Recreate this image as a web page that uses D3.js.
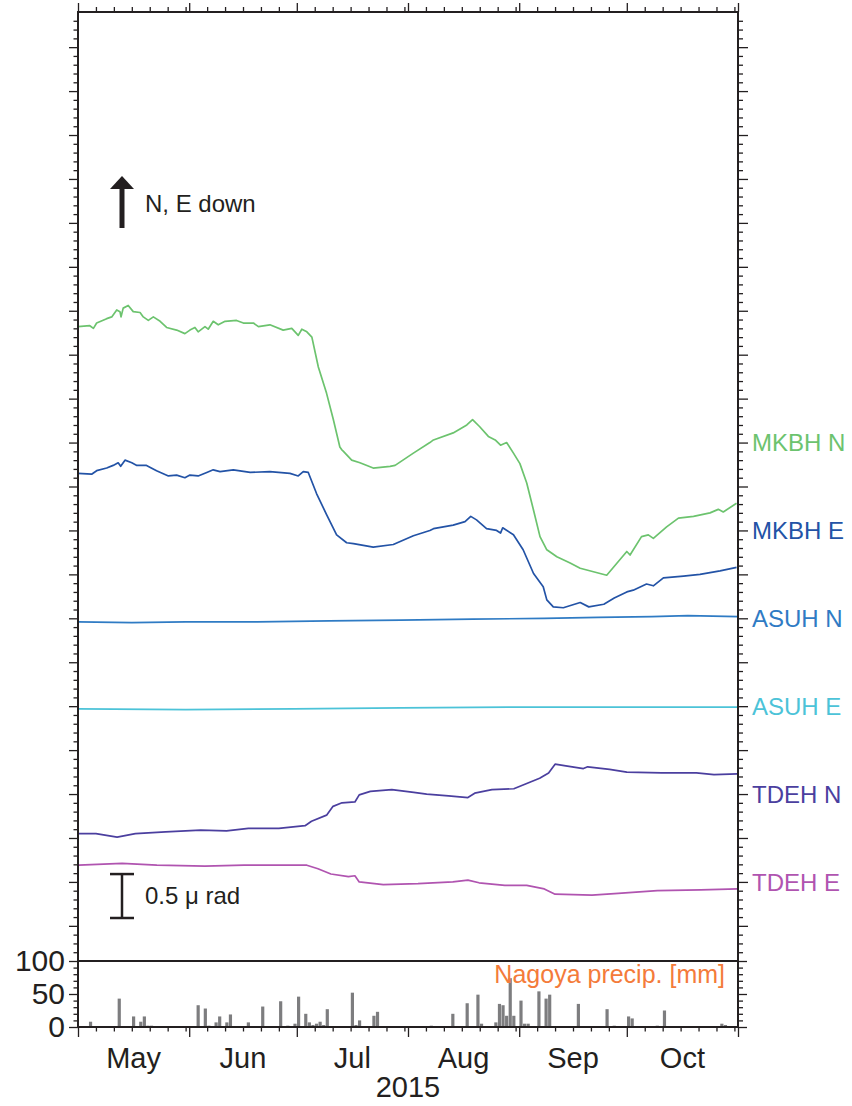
<!DOCTYPE html>
<html>
<head>
<meta charset="utf-8">
<script src="https://cdn.jsdelivr.net/npm/d3@7"></script>
<style>
  body { margin: 0; background: #fff; }
  svg text { font-family: "Liberation Sans", Arial, sans-serif; fill: #231f20; }
  .axis path.domain { display: none; }
  .axis line { stroke: #231f20; stroke-width: 1.3; }
</style>
</head>
<body>
<script>
// tilt series: [days since 2015-05-01, tilt in microradian (offset for display)]
var mkbhN = [[0,7.32],[3.3,7.33],[4.3,7.30],[5.2,7.36],[8,7.41],[9.4,7.43],[10.8,7.51],[11.7,7.49],[12,7.43],[12.6,7.53],[14,7.56],[15.4,7.49],[17.3,7.48],[18.2,7.43],[19.6,7.39],[21,7.43],[22.9,7.38],[24.7,7.31],[27.5,7.28],[29.8,7.24],[31.2,7.28],[32.6,7.31],[33.5,7.26],[35.4,7.32],[36.3,7.29],[37.7,7.38],[39.1,7.34],[41,7.38],[44.2,7.39],[46.1,7.36],[48.9,7.36],[50.3,7.32],[53.5,7.34],[57.2,7.28],[59.6,7.30],[61.4,7.22],[62.4,7.29],[63.8,7.26],[65.2,7.20],[67,6.86],[69.3,6.56],[71.2,6.26],[73,5.95],[73.5,5.92],[74,5.90],[76.3,5.80],[78.6,5.77],[82.3,5.71],[87,5.73],[88.4,5.74],[93.5,5.88],[98.1,6.00],[99.1,6.03],[104.6,6.11],[108.4,6.20],[110,6.26],[112,6.18],[114.4,6.07],[116.3,6.03],[117.8,5.97],[119.5,6.00],[121.4,5.88],[123.2,5.76],[125.1,5.54],[127,5.23],[128.8,4.93],[130.7,4.78],[133.5,4.70],[137.2,4.63],[140,4.57],[147.4,4.49],[153,4.76],[153.9,4.72],[157.1,4.93],[159,4.95],[160.4,4.91],[164.1,5.04],[167.4,5.14],[171.6,5.16],[176.2,5.20],[178.5,5.24],[179.9,5.21],[183.6,5.31]];
var mkbhE = [[0,5.65],[3.8,5.64],[5.2,5.68],[8,5.71],[9.8,5.74],[11.2,5.77],[11.9,5.73],[13.1,5.80],[15,5.77],[16.4,5.74],[19.1,5.74],[21.9,5.68],[25.2,5.62],[27.5,5.63],[29.8,5.60],[31.2,5.63],[33.5,5.62],[35.9,5.66],[37.7,5.69],[39.6,5.67],[43.3,5.69],[48,5.66],[53.5,5.67],[59.1,5.65],[61.4,5.62],[62.8,5.67],[64.2,5.66],[66.5,5.42],[69.3,5.18],[72.1,4.95],[74.9,4.86],[76.8,4.85],[82.3,4.81],[87.9,4.84],[93.5,4.94],[98.1,5.00],[99.1,5.02],[104.6,5.06],[107.9,5.10],[109.5,5.16],[111.1,5.12],[113.9,5.02],[116.7,5.00],[117.8,4.97],[118.4,5.03],[121.4,4.95],[124.1,4.78],[127,4.51],[129.7,4.36],[130.7,4.21],[132.5,4.13],[135.3,4.12],[140,4.18],[142.4,4.13],[146.6,4.16],[149.5,4.23],[153,4.30],[154.8,4.32],[158.5,4.39],[160.4,4.37],[163.2,4.46],[168.8,4.48],[173.4,4.50],[179,4.54],[183.6,4.58]];
var asuhN = [[0,3.96],[15,3.95],[30,3.96],[50,3.96],[70,3.97],[90,3.98],[110,3.99],[130,4.00],[145,4.01],[160,4.02],[170,4.03],[184,4.02]];
var asuhE = [[0,2.97],[30,2.96],[60,2.97],[90,2.98],[120,2.99],[150,2.99],[184,2.99]];
var tdehN = [[0.2,1.55],[5,1.55],[10.9,1.51],[16,1.55],[24.4,1.57],[34.2,1.59],[41.4,1.58],[47.5,1.61],[56,1.61],[63.3,1.64],[65.1,1.69],[69.3,1.76],[71.1,1.86],[73.6,1.90],[77.2,1.91],[78.4,1.99],[81.5,2.03],[87.5,2.05],[93.6,2.02],[97.2,2.00],[103.3,1.98],[108.7,1.96],[110.6,2.01],[115.4,2.05],[121.5,2.06],[125.1,2.12],[128.7,2.18],[131.2,2.24],[133,2.34],[136,2.32],[140.9,2.29],[142.1,2.31],[148.2,2.28],[153,2.25],[162.7,2.24],[172.4,2.24],[177.3,2.22],[183.9,2.23]];
var tdehE = [[0.2,1.19],[12.3,1.21],[22,1.19],[35.4,1.18],[46.3,1.19],[63.8,1.19],[66.9,1.15],[70.5,1.09],[75.4,1.06],[77.2,1.07],[78.4,1.00],[85.1,0.97],[94.8,0.98],[104.5,1.00],[108.7,1.02],[111.8,0.99],[119,0.96],[125.1,0.96],[130,0.92],[133,0.86],[143.3,0.85],[150.6,0.87],[161.5,0.90],[173.6,0.91],[183.9,0.92]];

var seriesNames = ["MKBH N", "MKBH E", "ASUH N", "ASUH E", "TDEH N", "TDEH E"];
var seriesLevels = [6, 5, 4, 3, 2, 1];
var seriesColors = ["#6cc36e", "#2353a6", "#2f7bc4", "#4cc3d8", "#4b3f9f", "#b054b0"];
var seriesData = [mkbhN, mkbhE, asuhN, asuhE, tdehN, tdehE];

// Nagoya daily precipitation
var precipDates = ["05-04","05-12","05-16","05-18","05-19","05-20","05-21","06-03","06-05","06-06","06-08","06-09","06-11","06-12","06-17","06-21","06-24","06-26","06-28","06-30","07-01","07-03","07-04","07-05","07-06","07-07","07-08","07-09","07-16","07-17","07-18","07-22","07-23","08-07","08-13","08-17","08-20","08-21","08-25","08-26","08-27","08-28","08-29","08-30","09-01","09-02","09-03","09-06","09-08","09-09","09-17","09-25","09-27","10-01","10-02","10-09","10-11","10-27","10-28"];
var precipMm = [8,43,16,8,16,2,2,33,28,2,7,16,7,19,7,31,1,39,2,5,46,20,7,3,5,8,3,27,52,3,10,17,23,2,20,36,49,5,7,35,33,17,74,17,40,5,5,54,43,49,35,27,2,16,13,2,25,5,3];

var monthLabels = ["May", "Jun", "Jul", "Aug", "Sep", "Oct"];
var yearLabel = "2015";
var precipTicks = [0, 50, 100];

var svgWidth = 852;
var svgHeight = 1106;
var plot = { left: 78, right: 738, top: 12, split: 961, bottom: 1027 };

var t0 = new Date(Date.UTC(2015, 4, 1));
var t1 = new Date(Date.UTC(2015, 10, 1));
function dayToDate(d) { return new Date(t0.getTime() + d * 864e5); }
var parseDay = d3.utcParse("%Y-%m-%d");

var svg = d3.select("body")
  .append("svg")
  .attr("width", svgWidth)
  .attr("height", svgHeight);

var x = d3.scaleUtc().domain([t0, t1]).range([plot.left, plot.right]);
var y = d3.scaleLinear().domain([0.1, 10.9]).range([plot.split, plot.top]);
var yP = d3.scaleLinear().domain([0, 100]).range([plot.bottom, plot.split]);

// tick values
var majorY = d3.range(1, 22).map(i => i * 0.5);
var minorY = d3.range(2, 109).filter(i => i % 5 !== 0).map(i => i / 10);
var monthTicks = d3.utcMonth.range(t0, new Date(t1.getTime() + 1));
var minorX = d3.utcDay.range(t0, t1).filter(d => [6, 11, 16, 21, 26, 31].indexOf(d.getUTCDate()) >= 0);
var minorP = d3.range(10, 100, 10).filter(v => v !== 50);

function addAxis(axis, tx, ty) {
  svg.append("g")
    .attr("class", "axis")
    .attr("transform", `translate(${tx},${ty})`)
    .call(axis);
}

// main panel y ticks
addAxis(d3.axisLeft(y).tickValues(majorY).tickSize(9).tickFormat(""), plot.left, 0);
addAxis(d3.axisLeft(y).tickValues(minorY).tickSize(4.5).tickFormat(""), plot.left, 0);
addAxis(d3.axisRight(y).tickValues(majorY).tickSize(10).tickFormat(""), plot.right, 0);
addAxis(d3.axisRight(y).tickValues(minorY).tickSize(5).tickFormat(""), plot.right, 0);

// time ticks top and bottom
addAxis(d3.axisTop(x).tickValues(monthTicks).tickSize(9).tickFormat(""), 0, plot.top);
addAxis(d3.axisTop(x).tickValues(minorX).tickSize(5).tickFormat(""), 0, plot.top);
addAxis(d3.axisBottom(x).tickValues(monthTicks).tickSize(10).tickFormat(""), 0, plot.bottom);
addAxis(d3.axisBottom(x).tickValues(minorX).tickSize(4.5).tickFormat(""), 0, plot.bottom);

// precip panel ticks
svg.append("g")
  .attr("class", "axis")
  .attr("transform", `translate(${plot.left},0)`)
  .call(d3.axisLeft(yP).tickValues(precipTicks).tickSize(9).tickPadding(4))
  .selectAll("text")
  .style("font-size", "30px");
addAxis(d3.axisLeft(yP).tickValues(minorP).tickSize(4.5).tickFormat(""), plot.left, 0);
addAxis(d3.axisRight(yP).tickValues(precipTicks).tickSize(9).tickFormat(""), plot.right, 0);
addAxis(d3.axisRight(yP).tickValues(minorP).tickSize(5).tickFormat(""), plot.right, 0);

// clip for the tilt lines
svg.append("clipPath").attr("id", "clip")
  .append("rect")
  .attr("x", plot.left).attr("y", plot.top)
  .attr("width", plot.right - plot.left)
  .attr("height", plot.split - plot.top);

// precipitation bars
var precip = precipDates.map((d, i) => ({ date: parseDay("2015-" + d), mm: precipMm[i] }));
svg.append("g").selectAll("rect")
  .data(precip)
  .enter()
  .append("rect")
  .attr("x", d => x(d.date) + 0.2)
  .attr("width", d => x(d3.utcDay.offset(d.date, 1)) - x(d.date) - 0.4)
  .attr("y", d => yP(d.mm))
  .attr("height", d => yP(0) - yP(d.mm))
  .attr("fill", "#7d7d7f");

svg.append("text")
  .attr("x", 725)
  .attr("y", 983)
  .attr("text-anchor", "end")
  .style("font-size", "25px")
  .style("fill", "#f47b3a")
  .text("Nagoya precip. [mm]");

// tilt lines
var line = d3.line()
  .x(d => x(dayToDate(d[0])))
  .y(d => y(d[1]));

var lines = svg.append("g").attr("clip-path", "url(#clip)");
seriesData.forEach(function(data, i) {
  lines.append("path")
    .datum(data)
    .attr("d", line)
    .attr("fill", "none")
    .attr("stroke", seriesColors[i])
    .attr("stroke-width", 1.7)
    .attr("stroke-linejoin", "round");

  svg.append("text")
    .attr("x", 752)
    .attr("y", y(seriesLevels[i]))
    .attr("dy", "0.36em")
    .style("font-size", "24px")
    .style("fill", seriesColors[i])
    .text(seriesNames[i]);
});

// frame
svg.append("rect")
  .attr("x", plot.left).attr("y", plot.top)
  .attr("width", plot.right - plot.left)
  .attr("height", plot.bottom - plot.top)
  .attr("fill", "none")
  .attr("stroke", "#231f20")
  .attr("stroke-width", 2);
svg.append("line")
  .attr("x1", plot.left).attr("x2", plot.right)
  .attr("y1", plot.split).attr("y2", plot.split)
  .attr("stroke", "#231f20")
  .attr("stroke-width", 2);

// month + year labels
monthLabels.forEach(function(m, i) {
  var a = monthTicks[i], b = monthTicks[i + 1];
  svg.append("text")
    .attr("x", (x(a) + x(b)) / 2)
    .attr("y", 1068)
    .attr("text-anchor", "middle")
    .style("font-size", "29px")
    .text(m);
});
svg.append("text")
  .attr("x", x(monthTicks[3]))
  .attr("y", 1097)
  .attr("text-anchor", "middle")
  .style("font-size", "29px")
  .text(yearLabel);

// direction arrow
svg.append("line")
  .attr("x1", 122).attr("x2", 122)
  .attr("y1", 228).attr("y2", 186)
  .attr("stroke", "#231f20")
  .attr("stroke-width", 5);
svg.append("path")
  .attr("d", "M110,189 L122,176 L134,189 Z")
  .attr("fill", "#231f20");
svg.append("text")
  .attr("x", 145).attr("y", 212)
  .style("font-size", "24px")
  .text("N, E down");

// 0.5 microradian scale bar
var barLen = y(0.5) - y(1.0);
var barBottom = 918;
var sb = svg.append("g").attr("stroke", "#231f20").attr("stroke-width", 2.5);
sb.append("line").attr("x1", 122).attr("x2", 122).attr("y1", barBottom).attr("y2", barBottom - barLen);
sb.append("line").attr("x1", 110).attr("x2", 134).attr("y1", barBottom).attr("y2", barBottom);
sb.append("line").attr("x1", 110).attr("x2", 134).attr("y1", barBottom - barLen).attr("y2", barBottom - barLen);
svg.append("text")
  .attr("x", 145).attr("y", 904)
  .style("font-size", "24px")
  .text("0.5 \u03bc rad");
</script>
</body>
</html>
